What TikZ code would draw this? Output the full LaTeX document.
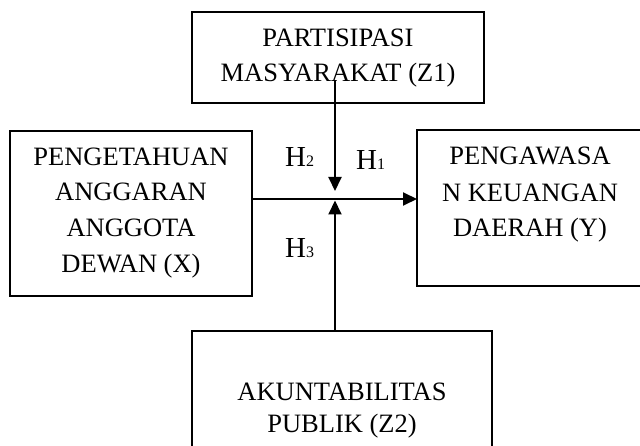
\documentclass[tikz,border=0pt]{standalone}
\usepackage{fontspec}
\setmainfont{Liberation Serif}
\usetikzlibrary{arrows.meta}
\newcommand\hsubdigit[1]{{\fontsize{16}{16}\selectfont #1}}
\begin{document}
\begin{tikzpicture}[x=1pt,y=-1pt,
  box/.style={draw, line width=1.3pt, inner sep=0pt, outer sep=0pt},
  txt/.style={inner sep=0pt, anchor=base, font=\fontsize{26.5}{30}\selectfont},
  hlab/.style={inner sep=0pt, anchor=base west, font=\fontsize{29}{30}\selectfont},
  arr/.style={line width=2pt, -{Triangle[length=14pt,width=13pt]}}]
\clip (0,0) rectangle (640,446);
\fill[white] (0,0) rectangle (640,446);
% boxes
\node[box, minimum width=292pt, minimum height=91pt] (z1) at (338,57.5) {};
\node[box, minimum width=242pt, minimum height=165pt] (x) at (131,213.5) {};
\node[box, minimum width=226pt, minimum height=156pt] (y) at (530,208) {};
\node[box, minimum width=300pt, minimum height=130pt] (z2) at (342,396) {};
% texts
\node[txt] (z1a) at (338,47) {PARTISIPASI};
\node[txt] (z1b) at (338,82) {MASYARAKAT (Z1)};
\node[txt] (xa) at (131,166) {PENGETAHUAN};
\node[txt] (xb) at (131,201) {ANGGARAN};
\node[txt] (xc) at (131,237) {ANGGOTA};
\node[txt] (xd) at (131,273) {DEWAN (X)};
\node[txt] (ya) at (530,165) {PENGAWASA};
\node[txt] (yb) at (530,202) {N KEUANGAN};
\node[txt] (yc) at (530,237) {DAERAH (Y)};
\node[txt] (z2a) at (342,400) {AKUNTABILITAS};
\node[txt] (z2b) at (342,432) {PUBLIK (Z2)};
% hypothesis labels
\node[hlab] (h2) at (285,167) {H\hsubdigit{2}};
\node[hlab] (h1) at (356,170) {H\hsubdigit{1}};
\node[hlab] (h3) at (285,258) {H\hsubdigit{3}};
% connectors
\coordinate (j) at (335,199);
\coordinate (z1s) at (335,80);
\coordinate (dtip) at (335,191);
\coordinate (utip) at (335,200.5);
\draw[arr] (z1s) -- (dtip);
\draw[arr] (x.east |- j) -- (y.west |- j);
\draw[arr] (z2.north -| j) -- (utip);
\end{tikzpicture}
\end{document}
